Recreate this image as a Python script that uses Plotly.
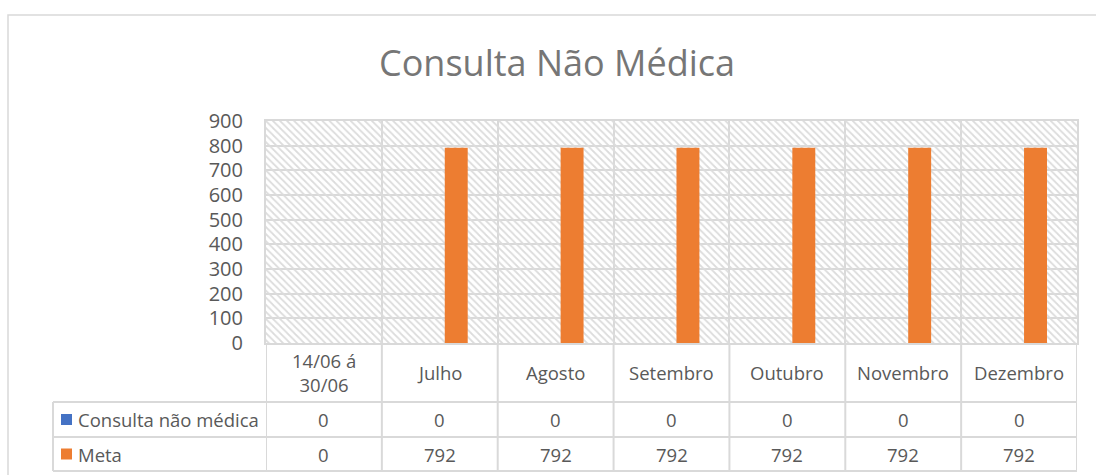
import plotly.graph_objects as go

# ---- data ----
categories = ["14/06 á<br>30/06", "Julho", "Agosto", "Setembro", "Outubro", "Novembro", "Dezembro"]
consulta_nao_medica = [0, 0, 0, 0, 0, 0, 0]
meta = [0, 792, 792, 792, 792, 792, 792]
series_names = ["Consulta não médica", "Meta"]
series_colors = ["#4472C4", "#ED7D31"]
y_ticks = [0, 100, 200, 300, 400, 500, 600, 700, 800, 900]
title_text = "Consulta Não Médica"

# ---- layout constants (pixels) ----
W, H = 1096, 475
L, R, T, B = 266, 1077, 121, 343
GRID = "#d9d9d9"
TXT = "#595959"
FONT = "Open Sans"

def px_x(px):
    return (px - L) / (R - L)

def px_y(py):
    return (B - py) / (B - T)

n = len(categories)
xs = list(range(n))

fig = go.Figure()

# hatched plot-area background
fig.add_trace(go.Bar(
    x=[(n - 1) / 2], y=[max(y_ticks)], width=[n], base=[0],
    marker=dict(color="rgba(0,0,0,0)", line=dict(width=0),
                pattern=dict(shape="\\", fgcolor="#dcdcdc", bgcolor="rgba(0,0,0,0)",
                             size=5, solidity=0.35, fillmode="replace")),
    hoverinfo="skip", showlegend=False))

bw = 0.198
fig.add_trace(go.Bar(x=xs, y=consulta_nao_medica, name=series_names[0],
                     width=bw, offset=0.043 - bw,
                     marker=dict(color=series_colors[0], line=dict(width=0)),
                     showlegend=False))
fig.add_trace(go.Bar(x=xs, y=meta, name=series_names[1],
                     width=bw, offset=0.043,
                     marker=dict(color=series_colors[1], line=dict(width=0)),
                     showlegend=False))

shapes = []
annotations = []
line = dict(color=GRID, width=2)

# outer chart border (cropped on right/bottom)
shapes.append(dict(type="rect", xref="paper", yref="paper",
                   x0=px_x(8), x1=px_x(W + 20), y0=px_y(H + 20), y1=px_y(15),
                   line=dict(color=GRID, width=1.5), fillcolor="rgba(0,0,0,0)", layer="below"))

# data table
row_tops = [B, 402, 437, 471]
left_col = 53
for py in row_tops[1:]:
    shapes.append(dict(type="line", xref="paper", yref="paper",
                       x0=px_x(left_col), x1=1, y0=px_y(py), y1=px_y(py), line=line))
for i in range(n + 1):
    shapes.append(dict(type="line", xref="x", yref="paper",
                       x0=i - 0.5, x1=i - 0.5, y0=px_y(B), y1=px_y(row_tops[-1]), line=line))
shapes.append(dict(type="line", xref="paper", yref="paper",
                   x0=px_x(left_col), x1=px_x(left_col), y0=px_y(402), y1=px_y(471), line=line))

tfont = dict(family=FONT, size=18.5, color=TXT)
for i, c in enumerate(categories):
    annotations.append(dict(x=i, y=px_y((B + 402) / 2), xref="x", yref="paper",
                            text=c, showarrow=False, font=tfont,
                            xanchor="center", yanchor="middle"))
for r, vals in enumerate([consulta_nao_medica, meta]):
    yc = px_y((row_tops[r + 1] + row_tops[r + 2]) / 2)
    for i, v in enumerate(vals):
        annotations.append(dict(x=i, y=yc, xref="x", yref="paper",
                                text=str(v), showarrow=False, font=tfont,
                                xanchor="center", yanchor="middle"))
    shapes.append(dict(type="rect", xref="paper", yref="paper",
                       x0=px_x(61), x1=px_x(72), y0=yc - 5.5 / (B - T), y1=yc + 5.5 / (B - T),
                       fillcolor=series_colors[r], line=dict(width=0)))
    annotations.append(dict(x=px_x(76), y=yc, xref="paper", yref="paper",
                            text=series_names[r], showarrow=False, font=tfont,
                            xanchor="left", yanchor="middle"))

fig.update_layout(
    width=W, height=H,
    margin=dict(l=L, r=W - R, t=T, b=H - B),
    paper_bgcolor="white", plot_bgcolor="white",
    barmode="overlay",
    showlegend=False,
    title=dict(text=title_text, x=557 / W, xanchor="center", y=1 - 63 / H, yanchor="middle",
               font=dict(family=FONT, size=36, color="#767676")),
    xaxis=dict(range=[-0.5, n - 0.5], tickvals=[i - 0.5 for i in range(n + 1)],
               showticklabels=False, showgrid=True, gridcolor=GRID, gridwidth=2,
               showline=True, mirror=True, linecolor=GRID, linewidth=2,
               zeroline=False, fixedrange=True),
    yaxis=dict(range=[0, max(y_ticks)], tickvals=y_ticks, ticktext=[str(t) for t in y_ticks],
               showgrid=True, gridcolor=GRID, gridwidth=2,
               showline=True, mirror=True, linecolor=GRID, linewidth=2,
               zeroline=False, ticks="", ticklabelstandoff=17,
               tickfont=dict(family=FONT, size=20, color=TXT), fixedrange=True),
    shapes=shapes, annotations=annotations,
    hovermode=False,
)

fig.write_html("out.html", config={"displayModeBar": False},
               post_script="document.body.style.margin='0';document.body.style.overflow='hidden';")
